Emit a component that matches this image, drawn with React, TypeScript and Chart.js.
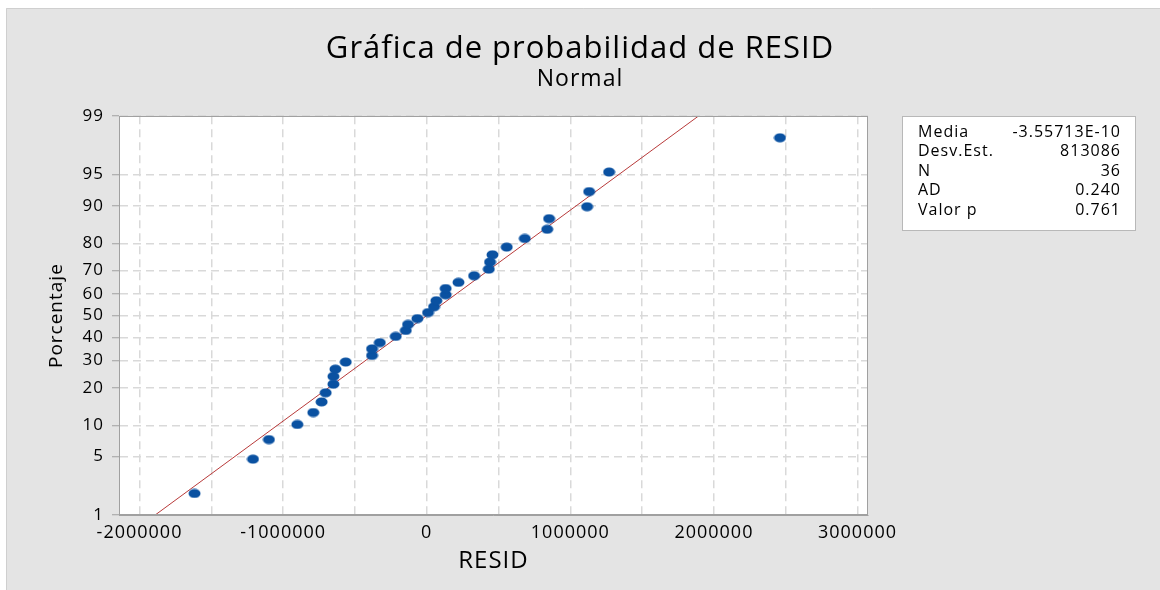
import React, { useEffect, useRef } from 'react';
import { Chart, registerables } from 'chart.js';

Chart.register(...registerables);

// ---- data ----
const RESID: number[] = [
  -1617000, -1210000, -1099000, -901000, -790000, -732000, -704000, -650000, -650000,
  -636000, -564000, -381000, -381000, -327000, -216000, -146000, -130000, -65000,
  9000, 51000, 67000, 132000, 132000, 221000, 330000, 432000, 441000, 458000,
  557000, 683000, 839000, 852000, 1117000, 1131000, 1270000, 2460000,
];
const PERCENT: number[] = [
  1.9, 4.7, 7.4, 10.2, 12.9, 15.7, 18.4, 21.2, 23.9,
  26.6, 29.4, 32.1, 34.9, 37.6, 40.4, 43.1, 45.9, 48.6,
  51.4, 54.1, 56.9, 59.6, 62.4, 65.1, 67.9, 70.6, 73.4, 76.1,
  78.8, 81.6, 84.3, 87.1, 89.8, 92.6, 95.3, 98.1,
];
const FIT_X: number[] = [-1891000, 1891000];
const FIT_P: number[] = [1, 99];
const Y_TICKS: number[] = [1, 5, 10, 20, 30, 40, 50, 60, 70, 80, 90, 95, 99];
const X_GRID: number[] = [
  -2000000, -1500000, -1000000, -500000, 0, 500000, 1000000, 1500000, 2000000, 2500000, 3000000,
];
const X_LABELS: number[] = [-2000000, -1000000, 0, 1000000, 2000000, 3000000];
const X_MIN = -2143000;
const X_MAX = 3073000;
const STATS_LABELS: string[] = ['Media', 'Desv.Est.', 'N', 'AD', 'Valor p'];
const STATS_VALUES: string[] = ['-3.55713E-10', '813086', '36', '0.240', '0.761'];

// inverse standard normal CDF (probability-paper scale)
function invNorm(p: number): number {
  const a = [-3.969683028665376e1, 2.209460984245205e2, -2.759285104469687e2, 1.38357751867269e2, -3.066479806614716e1, 2.506628277459239];
  const b = [-5.447609879822406e1, 1.615858368580409e2, -1.556989798598866e2, 6.680131188771972e1, -1.328068155288572e1];
  const c = [-7.784894002430293e-3, -3.223964580411365e-1, -2.400758277161838, -2.549732539343734, 4.374664141464968, 2.938163982698783];
  const d = [7.784695709041462e-3, 3.224671290700398e-1, 2.445134137142996, 3.754408661907416];
  const pl = 0.02425;
  if (p < pl) {
    const q = Math.sqrt(-2 * Math.log(p));
    return (((((c[0] * q + c[1]) * q + c[2]) * q + c[3]) * q + c[4]) * q + c[5]) / ((((d[0] * q + d[1]) * q + d[2]) * q + d[3]) * q + 1);
  }
  if (p > 1 - pl) {
    const q = Math.sqrt(-2 * Math.log(1 - p));
    return -(((((c[0] * q + c[1]) * q + c[2]) * q + c[3]) * q + c[4]) * q + c[5]) / ((((d[0] * q + d[1]) * q + d[2]) * q + d[3]) * q + 1);
  }
  const q = p - 0.5;
  const r = q * q;
  return ((((((a[0] * r + a[1]) * r + a[2]) * r + a[3]) * r + a[4]) * r + a[5]) * q) / (((((b[0] * r + b[1]) * r + b[2]) * r + b[3]) * r + b[4]) * r + 1);
}

const FONT = '"Open Sans", "Noto Sans", sans-serif';

const panelPlugin = {
  id: 'panel',
  beforeDraw(chart: any) {
    const { ctx, chartArea: a, width, height } = chart;
    ctx.save();
    ctx.fillStyle = '#ffffff';
    ctx.fillRect(0, 0, width, height);
    ctx.fillStyle = '#e4e4e4';
    ctx.fillRect(6, 8, width - 6, height - 8);
    ctx.strokeStyle = '#cfcfcf';
    ctx.lineWidth = 1;
    ctx.beginPath();
    ctx.moveTo(6.5, height);
    ctx.lineTo(6.5, 8.5);
    ctx.lineTo(width, 8.5);
    ctx.stroke();
    ctx.fillStyle = '#ffffff';
    ctx.fillRect(a.left, a.top, a.right - a.left, a.bottom - a.top);
    ctx.restore();
    // slightly spaced lettering for every text drawn afterwards
    try { (ctx as any).letterSpacing = '1px'; } catch (e) { /* ignore */ }
  },
  afterDraw(chart: any) {
    const { ctx, chartArea: a } = chart;
    ctx.save();
    ctx.strokeStyle = '#a0a0a0';
    ctx.lineWidth = 1;
    ctx.strokeRect(Math.round(a.left) + 0.5, Math.round(a.top) + 0.5, Math.round(a.right - a.left) - 1, Math.round(a.bottom - a.top) - 1);
    // statistics box
    const bx = Math.round(a.right) + 34;
    const by = Math.round(a.top);
    const bw = 233;
    const bh = 114;
    ctx.fillStyle = '#ffffff';
    ctx.fillRect(bx, by, bw, bh);
    ctx.strokeStyle = '#b8b8b8';
    ctx.strokeRect(bx + 0.5, by + 0.5, bw, bh);
    ctx.fillStyle = '#000000';
    ctx.font = `16px ${FONT}`;
    ctx.textBaseline = 'middle';
    STATS_LABELS.forEach((lab, i) => {
      const yy = by + 16 + i * 19.5;
      ctx.textAlign = 'left';
      ctx.fillText(lab, bx + 16, yy);
      ctx.textAlign = 'right';
      ctx.fillText(STATS_VALUES[i], bx + bw - 14, yy);
    });
    ctx.restore();
  },
};

function makeDot(): HTMLCanvasElement {
  const c = document.createElement('canvas');
  c.width = 13;
  c.height = 10;
  const g = c.getContext('2d')!;
  g.fillStyle = '#0a51a1';
  g.beginPath();
  g.ellipse(6.5, 5, 6, 4.5, 0, 0, Math.PI * 2);
  g.fill();
  return c;
}

export default function App() {
  const ref = useRef<HTMLCanvasElement | null>(null);

  useEffect(() => {
    if (!ref.current) return;
    Chart.defaults.font.family = FONT;
    Chart.defaults.color = '#000';
    const dot = makeDot();
    const zMin = invNorm(Y_TICKS[0] / 100);
    const zMax = invNorm(Y_TICKS[Y_TICKS.length - 1] / 100);
    const points = RESID.map((x, i) => ({ x, y: invNorm(PERCENT[i] / 100) }));
    const fit = FIT_X.map((x, i) => ({ x, y: invNorm(FIT_P[i] / 100) }));

    const chart = new Chart(ref.current, {
      type: 'scatter',
      data: {
        datasets: [
          {
            label: 'RESID',
            data: points,
            pointStyle: dot as any,
            pointRadius: 5,
            backgroundColor: '#0a51a1',
            borderColor: '#0a51a1',
            order: 0,
          },
          {
            label: 'Ajuste',
            data: fit,
            showLine: true,
            pointRadius: 0,
            borderColor: '#b83a3a',
            borderWidth: 1,
            order: 1,
          } as any,
        ],
      },
      options: {
        responsive: false,
        animation: false,
        events: [],
        layout: { padding: 0 },
        plugins: {
          legend: { display: false },
          tooltip: { enabled: false },
          title: {
            display: true,
            text: 'Gráfica de probabilidad de RESID',
            color: '#000',
            font: { size: 31, weight: 'normal', lineHeight: 1.2 },
            padding: { top: 31, bottom: 0 },
          },
          subtitle: {
            display: true,
            text: 'Normal',
            color: '#000',
            font: { size: 23, weight: 'normal', lineHeight: 1.0 },
            padding: { top: 0, bottom: 25 },
          },
        },
        scales: {
          x: {
            type: 'linear',
            position: 'bottom',
            min: X_MIN,
            max: X_MAX,
            afterBuildTicks: (s: any) => {
              s.ticks = X_GRID.map((v) => ({ value: v }));
            },
            ticks: {
              autoSkip: false,
              maxRotation: 0,
              padding: 7,
              color: '#000',
              font: { size: 18 },
              callback: (_v: any, i: number) => (X_LABELS.includes(X_GRID[i]) ? String(X_GRID[i]) : ''),
            },
            grid: { color: '#d9d9d9', lineWidth: 1.5, drawTicks: false },
            border: { color: '#a0a0a0', width: 1, dash: [8, 5] },
            title: { display: true, text: 'RESID', color: '#000', font: { size: 24 }, padding: { top: 0, bottom: 14 } },
            afterFit: (s: any) => { s.height = 75; },
          },
          y: {
            type: 'linear',
            position: 'left',
            min: zMin,
            max: zMax,
            afterBuildTicks: (s: any) => {
              s.ticks = Y_TICKS.map((p) => ({ value: invNorm(p / 100) }));
            },
            ticks: {
              autoSkip: false,
              padding: 8,
              color: '#000',
              font: { size: 17 },
              callback: (_v: any, i: number) => String(Y_TICKS[i]),
            },
            grid: { color: '#d9d9d9', lineWidth: 1.5, drawTicks: true, tickLength: 7, tickColor: '#a0a0a0', tickWidth: 1 },
            border: { color: '#a0a0a0', width: 1, dash: [8, 5] },
            title: { display: true, text: 'Porcentaje', color: '#000', font: { size: 19 }, padding: { top: 45, bottom: 0 } },
            afterFit: (s: any) => { s.width = 119; },
          },
          y2: {
            type: 'linear',
            position: 'right',
            display: true,
            grid: { display: false },
            border: { display: false },
            ticks: { display: false },
            afterFit: (s: any) => { s.width = 292; },
          },
        },
      } as any,
      plugins: [panelPlugin],
    });
    return () => chart.destroy();
  }, []);

  return (
    <div style={{ position: 'fixed', left: 0, top: 0, width: 1160, height: 590 }}>
      <canvas ref={ref} width={1160} height={590} style={{ display: 'block', width: 1160, height: 590 }} />
    </div>
  );
}
